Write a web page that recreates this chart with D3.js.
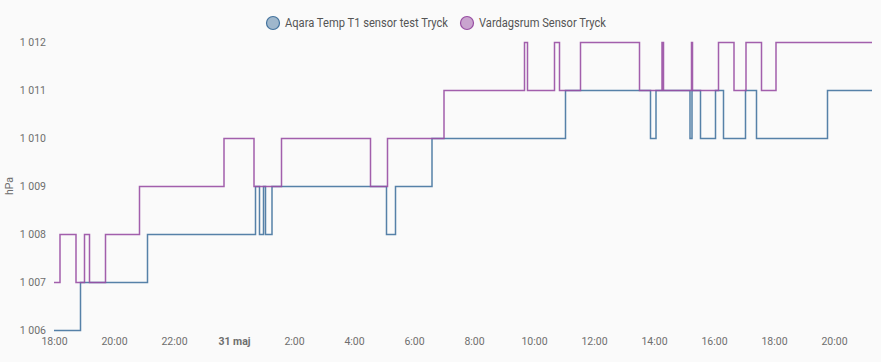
<!DOCTYPE html>
<html>
<head>
<meta charset="utf-8">
<script src="https://cdn.jsdelivr.net/npm/d3@7"></script>
<style>
  html, body { margin: 0; padding: 0; background: #fafafa; }
  #container { width: 881px; height: 362px; }
  text { font-family: Roboto, "Noto Sans", sans-serif; }
</style>
</head>
<body>
<div id="container"></div>
<script>
// step changes: [time, value]
const aqaraTryck = [
  ["2024-05-30T18:00", 1006], ["2024-05-30T18:53", 1007], ["2024-05-30T21:07", 1008],
  ["2024-05-31T00:43", 1009], ["2024-05-31T00:51", 1008], ["2024-05-31T00:59", 1009],
  ["2024-05-31T01:03", 1008], ["2024-05-31T01:16", 1009], ["2024-05-31T05:05", 1008],
  ["2024-05-31T05:23", 1009], ["2024-05-31T06:36", 1010], ["2024-05-31T11:03", 1011],
  ["2024-05-31T13:53", 1010], ["2024-05-31T14:04", 1011], ["2024-05-31T15:12", 1010],
  ["2024-05-31T15:16", 1011], ["2024-05-31T15:33", 1010], ["2024-05-31T16:03", 1011],
  ["2024-05-31T16:19", 1010], ["2024-05-31T17:03", 1011], ["2024-05-31T17:25", 1010],
  ["2024-05-31T19:47", 1011]
];
const vardagsrumTryck = [
  ["2024-05-30T18:00", 1007], ["2024-05-30T18:12", 1008], ["2024-05-30T18:44", 1007],
  ["2024-05-30T19:01", 1008], ["2024-05-30T19:11", 1007], ["2024-05-30T19:43", 1008],
  ["2024-05-30T20:51", 1009], ["2024-05-30T23:40", 1010], ["2024-05-31T00:40", 1009],
  ["2024-05-31T01:35", 1010], ["2024-05-31T04:33", 1009], ["2024-05-31T05:07", 1010],
  ["2024-05-31T07:00", 1011], ["2024-05-31T09:41", 1012], ["2024-05-31T09:47", 1011],
  ["2024-05-31T10:41", 1012], ["2024-05-31T10:51", 1011], ["2024-05-31T11:33", 1012],
  ["2024-05-31T13:31", 1011], ["2024-05-31T14:16", 1012], ["2024-05-31T14:19", 1011],
  ["2024-05-31T15:15", 1012], ["2024-05-31T15:17", 1011], ["2024-05-31T16:09", 1012],
  ["2024-05-31T16:40", 1011], ["2024-05-31T17:04", 1012], ["2024-05-31T17:35", 1011],
  ["2024-05-31T18:04", 1012]
];
const endTime = "2024-05-31T21:16";

const seriesNames = ["Aqara Temp T1 sensor test Tryck", "Vardagsrum Sensor Tryck"];
const seriesColors = ["#44739e", "#984ea3"];

const yTicks = [1006, 1007, 1008, 1009, 1010, 1011, 1012];
const yTickLabels = ["1 006", "1 007", "1 008", "1 009", "1 010", "1 011", "1 012"];
const xTicks = ["2024-05-30T18:00", "2024-05-30T20:00", "2024-05-30T22:00", "2024-05-31T00:00",
  "2024-05-31T02:00", "2024-05-31T04:00", "2024-05-31T06:00", "2024-05-31T08:00",
  "2024-05-31T10:00", "2024-05-31T12:00", "2024-05-31T14:00", "2024-05-31T16:00",
  "2024-05-31T18:00", "2024-05-31T20:00"];
const xTickLabels = ["18:00", "20:00", "22:00", "31 maj", "2:00", "4:00", "6:00", "8:00",
  "10:00", "12:00", "14:00", "16:00", "18:00", "20:00"];

const w = 881, h = 362;
const parse = d3.isoParse;

const viz = d3.select("#container")
  .append("svg")
    .attr("width", w)
    .attr("height", h)
    .style("background-color", "#fafafa");

const xScale = d3.scaleTime()
  .domain([parse(xTicks[0]), parse(endTime)])
  .range([54, 872]);

const yScale = d3.scaleLinear()
  .domain([1006, 1012])
  .range([330.5, 42.5]);

// y axis
const yAxis = viz.append("g")
  .attr("transform", "translate(46,0)")
  .call(d3.axisLeft(yScale).tickValues(yTicks)
    .tickFormat((d, i) => yTickLabels[i]).tickSize(0).tickPadding(0));
yAxis.select(".domain").remove();
yAxis.selectAll("text")
  .attr("fill", "#6e6e6e")
  .style("font-size", "10.5px");

viz.append("text")
  .attr("transform", "translate(13,186) rotate(-90)")
  .attr("text-anchor", "middle")
  .attr("fill", "#6e6e6e")
  .style("font-size", "10.5px")
  .text("hPa");

// x axis
const xAxis = viz.append("g")
  .attr("transform", "translate(0,338)")
  .call(d3.axisBottom(xScale).tickValues(xTicks.map(parse))
    .tickFormat((d, i) => xTickLabels[i]).tickSize(0).tickPadding(0));
xAxis.select(".domain").remove();
xAxis.selectAll("text")
  .attr("fill", "#6e6e6e")
  .style("font-size", "10.5px")
  .style("font-weight", (d, i) => xTickLabels[i] === "31 maj" ? "bold" : "normal");

// lines
const line = d3.line()
  .x(d => xScale(d.t))
  .y(d => yScale(d.v))
  .curve(d3.curveStepAfter);

[aqaraTryck, vardagsrumTryck].forEach((series, i) => {
  const pts = series.map(d => ({ t: parse(d[0]), v: d[1] }));
  pts.push({ t: parse(endTime), v: series[series.length - 1][1] });
  viz.append("path")
    .datum(pts)
    .attr("fill", "none")
    .attr("stroke", seriesColors[i])
    .attr("stroke-width", 1.5)
    .attr("stroke-opacity", 0.9)
    .attr("d", line);
});

// legend
const legendX = [273, 467];
const legendTextW = [163, 127];
const legend = viz.append("g").attr("class", "legend");
seriesNames.forEach((name, i) => {
  legend.append("circle")
    .attr("cx", legendX[i])
    .attr("cy", 23)
    .attr("r", 6.5)
    .attr("fill", seriesColors[i])
    .attr("fill-opacity", 0.5)
    .attr("stroke", seriesColors[i])
    .attr("stroke-width", 1.2);
  legend.append("text")
    .attr("x", legendX[i] + 12)
    .attr("y", 23)
    .attr("dy", "0.35em")
    .attr("fill", "#555")
    .attr("textLength", legendTextW[i])
    .attr("lengthAdjust", "spacingAndGlyphs")
    .style("font-size", "12px")
    .text(name);
});
</script>
</body>
</html>
